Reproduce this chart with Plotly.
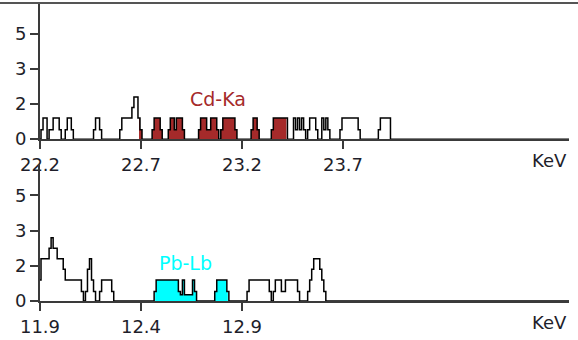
import plotly.graph_objects as go
import numpy as np

# ---------------- data ----------------
# Upper spectrum (Cd-Ka window), energy in KeV and counts
top_energy = [22.20, 22.21, 22.22, 22.23, 22.24, 22.25, 22.26, 22.27, 22.28, 22.29,
              22.30, 22.31, 22.32, 22.33, 22.34, 22.35, 22.36, 22.37, 22.46, 22.47,
              22.48, 22.49, 22.50, 22.51, 22.59, 22.60, 22.61, 22.62, 22.63, 22.64,
              22.65, 22.66, 22.67, 22.68, 22.69, 22.70, 22.71, 22.75, 22.76, 22.77,
              22.78, 22.79, 22.80, 22.81, 22.83, 22.84, 22.85, 22.86, 22.87, 22.88,
              22.89, 22.90, 22.91, 22.92, 22.98, 22.99, 23.00, 23.01, 23.02, 23.03,
              23.04, 23.05, 23.06, 23.07, 23.08, 23.09, 23.10, 23.11, 23.12, 23.13,
              23.14, 23.15, 23.16, 23.17, 23.18, 23.24, 23.25, 23.26, 23.27, 23.28,
              23.29, 23.34, 23.35, 23.36, 23.37, 23.38, 23.39, 23.40, 23.41, 23.42,
              23.43, 23.45, 23.46, 23.47, 23.48, 23.49, 23.50, 23.51, 23.52, 23.53,
              23.54, 23.55, 23.56, 23.57, 23.58, 23.59, 23.60, 23.61, 23.62, 23.63,
              23.64, 23.68, 23.69, 23.70, 23.71, 23.72, 23.73, 23.74, 23.75, 23.76,
              23.77, 23.78, 23.79, 23.87, 23.88, 23.89, 23.90, 23.91, 23.92, 23.93,
              23.94, 24.82]
top_counts = [0, 0.45, 1, 1, 0, 0.45, 0.45, 1, 1, 1,
              0.45, 0, 0, 0.45, 1, 1, 0.45, 0, 0, 0.45,
              1, 1, 0.45, 0, 0, 0.45, 1, 1, 1, 1,
              1, 1.5, 2, 2, 1, 0.45, 0, 0, 0.45, 1,
              1, 1, 0.45, 0, 0, 0.45, 1, 1, 0.45, 1,
              1, 1, 0.45, 0, 0, 0.45, 1, 1, 1, 0.45,
              0.45, 1, 1, 1, 0.45, 0, 0.45, 1, 1, 1,
              1, 1, 1, 0.45, 0, 0, 0.45, 1, 1, 0.45,
              0, 0, 0.45, 1, 1, 1, 1, 1, 1, 1,
              0, 0, 1, 0.45, 1, 0.45, 1, 0.45, 0, 0.45,
              1, 1, 1, 0.45, 0, 0, 1, 0.45, 1, 0.45,
              0, 0, 0.45, 1, 1, 1, 1, 1, 1, 1,
              1, 0.45, 0, 0, 0.45, 1, 1, 1, 1, 1,
              0, 0]

# Lower spectrum (Pb-Lb window)
bot_energy = [11.90, 11.91, 11.92, 11.93, 11.94, 11.95, 11.96, 11.97, 11.98, 11.99,
              12.00, 12.01, 12.02, 12.03, 12.04, 12.05, 12.06, 12.07, 12.08, 12.09,
              12.10, 12.11, 12.12, 12.13, 12.14, 12.15, 12.16, 12.17, 12.18, 12.19,
              12.20, 12.21, 12.22, 12.23, 12.24, 12.25, 12.26, 12.27, 12.46, 12.47,
              12.48, 12.49, 12.50, 12.51, 12.52, 12.53, 12.54, 12.55, 12.56, 12.57,
              12.58, 12.59, 12.60, 12.61, 12.62, 12.63, 12.64, 12.65, 12.66, 12.67,
              12.68, 12.76, 12.77, 12.78, 12.79, 12.80, 12.81, 12.82, 12.83, 12.84,
              12.92, 12.93, 12.94, 12.95, 12.96, 12.97, 12.98, 12.99, 13.00, 13.01,
              13.02, 13.03, 13.04, 13.05, 13.06, 13.07, 13.08, 13.09, 13.10, 13.11,
              13.12, 13.13, 13.14, 13.15, 13.16, 13.17, 13.18, 13.19, 13.22, 13.23,
              13.24, 13.25, 13.26, 13.27, 13.28, 13.29, 13.30, 13.31, 13.32, 14.52]
bot_counts = [1, 2, 2, 2, 2, 2.5, 3, 2.5, 2.5, 2,
              2, 2, 1.5, 1, 1, 1, 1, 1, 1, 1,
              1, 0.45, 0, 0.45, 1.5, 2, 1, 0.45, 0, 0,
              0.45, 1, 1, 1, 1, 1, 0.45, 0, 0, 0.45,
              1, 1, 1, 1, 1, 1, 1, 1, 1, 1,
              1, 0.45, 0.3, 1, 0.3, 0.3, 0.3, 0.3, 1, 0.45,
              0, 0, 0.45, 1, 1, 1, 1, 1, 0.45, 0,
              0, 0.45, 1, 1, 1, 1, 1, 1, 1, 1,
              1, 1, 0.45, 0, 0.45, 1, 1, 1, 0.45, 0.45,
              1, 1, 1, 1, 1, 1, 0.45, 0, 0, 0.45,
              1, 1.5, 2, 2, 2, 1.5, 1, 0.45, 0, 0]

# Regions of interest
roi_names = ["Cd-Ka", "Pb-Lb"]
roi_low = [22.69, 12.47]
roi_high = [23.42, 12.83]
roi_label_x = [23.08, 12.62]
roi_label_y = [1.92, 1.82]
roi_colors = ["#a52a2a", "#00ffff"]

# Axis ticks
top_xticks = [22.2, 22.7, 23.2, 23.7]
bot_xticks = [11.9, 12.4, 12.9]
y_tickvals = [0, 5 / 3, 10 / 3, 5]
y_ticktext = ["0", "2", "3", "5"]
x_unit = "KeV"

# ---------------- figure ----------------
W, H = 578, 340
ML, MR, MT, MB = 40, 9, 3, 35
plot_w = W - ML - MR
px_per_kev = 202.0

fig = go.Figure()

panels = [
    (top_energy, top_counts, "x", "y", 0),
    (bot_energy, bot_counts, "x2", "y2", 1),
]

for e, c, xa, ya, i in panels:
    e = np.asarray(e, float)
    c = np.asarray(c, float)
    lo, hi = roi_low[i], roi_high[i]
    inside = (e >= lo - 1e-9) & (e <= hi + 1e-9)
    # ROI fill under the spectrum
    fig.add_trace(go.Scatter(x=e[inside], y=c[inside], mode="lines", xaxis=xa, yaxis=ya,
                             fill="tozeroy", fillcolor=roi_colors[i],
                             line=dict(width=0, color=roi_colors[i], shape="hvh"),
                             hoverinfo="skip", showlegend=False))
    # black spectrum line
    fig.add_trace(go.Scatter(x=e, y=c, mode="lines", xaxis=xa, yaxis=ya,
                             line=dict(color="black", width=1.5, shape="hvh"),
                             hoverinfo="skip", showlegend=False))
    fig.add_annotation(x=roi_label_x[i], y=roi_label_y[i], xref=xa, yref=ya,
                       text=roi_names[i], showarrow=False,
                       font=dict(family="DejaVu Sans", size=19, color=roi_colors[i]))

axis_col = "#3a3a3a"
tick_font = dict(family="DejaVu Sans", size=18, color="#1e1e2a")

def xaxis_style(start, ticks):
    return dict(range=[start, start + plot_w / px_per_kev], tickvals=ticks,
                ticktext=[f"{t:.1f}" for t in ticks],
                showline=True, linecolor=axis_col, linewidth=2,
                ticks="outside", ticklen=8, tickwidth=1.5, tickcolor=axis_col,
                showgrid=False, zeroline=False, tickfont=tick_font, fixedrange=True)

def yaxis_style(domain, top):
    return dict(domain=domain, range=[0, top], tickvals=y_tickvals, ticktext=y_ticktext,
                showline=True, linecolor=axis_col, linewidth=2,
                ticks="outside", ticklen=8, tickwidth=1.5, tickcolor=axis_col,
                showgrid=False, zeroline=False, tickfont=tick_font, fixedrange=True)

plot_h = H - MT - MB
top_dom = [(H - MB - 141) / plot_h, 1.0]
bot_dom = [0.0, (H - MB - 166) / plot_h]
count_px = 21.4

fig.update_layout(
    width=W, height=H,
    margin=dict(l=ML, r=MR, t=MT, b=MB),
    paper_bgcolor="white", plot_bgcolor="white",
    xaxis=dict(anchor="y", **xaxis_style(top_energy[0], top_xticks)),
    yaxis=dict(anchor="x", **yaxis_style(top_dom, 138 / count_px)),
    xaxis2=dict(anchor="y2", **xaxis_style(bot_energy[0], bot_xticks)),
    yaxis2=dict(anchor="x2", **yaxis_style(bot_dom, 139 / count_px)),
    showlegend=False,
)

# frame line at the top
fig.add_shape(type="line", xref="paper", yref="paper",
              x0=-ML / plot_w, x1=(W - ML) / plot_w, y0=1, y1=1,
              line=dict(color="#555555", width=2))

# unit labels at the right end of each x axis
for dom in (top_dom, bot_dom):
    fig.add_annotation(x=1.0, y=dom[0], xref="paper", yref="paper",
                       xanchor="right", yanchor="top", yshift=-9,
                       text=x_unit, showarrow=False, font=tick_font)

fig.write_html("out.html", config={"displayModeBar": False},
               post_script="document.body.style.margin='0';document.body.style.overflow='hidden';")
